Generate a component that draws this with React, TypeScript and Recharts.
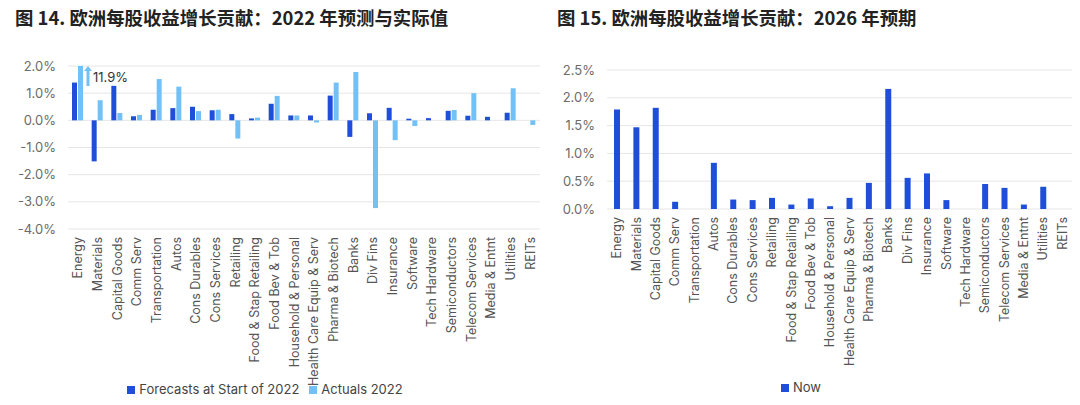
import React from 'react';
import { BarChart, Bar, XAxis, YAxis, CartesianGrid, Legend, LabelList } from 'recharts';

const categories = [
  'Energy', 'Materials', 'Capital Goods', 'Comm Serv', 'Transportation', 'Autos',
  'Cons Durables', 'Cons Services', 'Retailing', 'Food & Stap Retailing', 'Food Bev & Tob',
  'Household & Personal', 'Health Care Equip & Serv', 'Pharma & Biotech', 'Banks', 'Div Fins',
  'Insurance', 'Software', 'Tech Hardware', 'Semiconductors', 'Telecom Services',
  'Media & Entnt', 'Utilities', 'REITs',
];

// EPS growth contribution, %
const forecasts2022 = [
  1.39, -1.51, 1.27, 0.15, 0.39, 0.45, 0.5, 0.37, 0.23, 0.07, 0.61, 0.18,
  0.18, 0.91, -0.61, 0.26, 0.46, 0.06, 0.08, 0.35, 0.17, 0.13, 0.28, 0,
];
const actuals2022 = [
  11.9, 0.74, 0.27, 0.2, 1.52, 1.24, 0.34, 0.39, -0.67, 0.1, 0.9, 0.18,
  -0.08, 1.39, 1.78, -3.23, -0.73, -0.21, 0, 0.38, 1.0, 0, 1.18, -0.17,
];
const now2026 = [
  1.79, 1.47, 1.82, 0.13, 0, 0.83, 0.17, 0.16, 0.2, 0.08, 0.19, 0.05,
  0.2, 0.47, 2.16, 0.56, 0.64, 0.16, 0, 0.45, 0.38, 0.08, 0.4, 0,
];

const leftTicks = [2, 1, 0, -1, -2, -3, -4];
const rightTicks = [0, 0.5, 1, 1.5, 2, 2.5];
const LEFT_MAX = 2;
const legendOrder = ['Forecasts at Start of 2022', 'Actuals 2022'];

const FONT = 'Inter, "Noto Sans", sans-serif';
const DARK = '#1f4fd8';
const LIGHT = '#72c1f6';

const leftData = categories.map((name, i) => ({
  name,
  forecast: forecasts2022[i],
  actual: Math.min(actuals2022[i], LEFT_MAX),
  actualRaw: actuals2022[i],
}));

const rightData = categories.map((name, i) => ({ name, now: now2026[i] }));

const pct = (v: number) => `${v.toFixed(1)}%`;

const tickY = { fill: '#6b6b6b', fontSize: 13, fontFamily: FONT };

function CatTick(props: any) {
  const { x, y, payload } = props;
  return (
    <text
      x={x}
      y={y}
      transform={`rotate(-90, ${x}, ${y})`}
      textAnchor="end"
      dominantBaseline="central"
      fill="#555"
      fontSize={12.5}
      fontFamily={FONT}
    >
      {payload.value}
    </text>
  );
}

// arrow + value for the bar that runs off the top of the axis
function OverflowLabel(props: any) {
  const { x, y, width, index } = props;
  if (actuals2022[index] <= LEFT_MAX) return null;
  const ax = x + width + 5;
  return (
    <g>
      <line x1={ax} y1={y + 20} x2={ax} y2={y + 4} stroke={LIGHT} strokeWidth={3} />
      <path d={`M${ax - 4},${y + 5} L${ax},${y} L${ax + 4},${y + 5} Z`} fill={LIGHT} />
      <text x={ax + 5} y={y + 11} dominantBaseline="central" fontSize={13} fill="#333" fontFamily={FONT}>
        {pct(actuals2022[index])}
      </text>
    </g>
  );
}

const titleStyle: React.CSSProperties = {
  position: 'absolute',
  top: 4,
  fontFamily: '"Noto Sans CJK SC", sans-serif',
  fontWeight: 700,
  fontSize: 18.4,
  color: '#222',
  whiteSpace: 'nowrap',
};

const legendStyle = { fontSize: 13, fontFamily: FONT, color: '#444' };

export default function App() {
  return (
    <div style={{ position: 'fixed', left: 0, top: 0, width: 1080, height: 405, background: '#fff' }}>
      <div style={{ ...titleStyle, left: 15 }}>图 14. 欧洲每股收益增长贡献：2022 年预测与实际值</div>
      <div style={{ ...titleStyle, left: 557 }}>图 15. 欧洲每股收益增长贡献：2026 年预期</div>

      <div style={{ position: 'absolute', left: 0, top: 45 }}>
        <BarChart
          width={545}
          height={360}
          data={leftData}
          margin={{ top: 21, right: 5, left: 0, bottom: 4 }}
          barSize={5}
          barGap={1}
        >
          <CartesianGrid vertical={false} stroke="#e6e6e6" />
          <XAxis
            dataKey="name"
            interval={0}
            axisLine={false}
            tickLine={false}
            height={152}
            tick={<CatTick />}
          />
          <YAxis
            width={68}
            domain={[-4, 2]}
            ticks={leftTicks}
            tickFormatter={pct}
            axisLine={false}
            tickLine={false}
            tick={tickY}
            tickMargin={6}
          />
          <Legend
            verticalAlign="bottom"
            height={20}
            iconType="square"
            iconSize={8}
            wrapperStyle={legendStyle}
            itemSorter={(item: any) => legendOrder.indexOf(item.value)}
            formatter={(v) => <span style={{ color: '#444' }}>{v}</span>}
          />
          <Bar dataKey="forecast" name="Forecasts at Start of 2022" fill={DARK} isAnimationActive={false} />
          <Bar dataKey="actual" name="Actuals 2022" fill={LIGHT} isAnimationActive={false}>
            <LabelList dataKey="actual" content={<OverflowLabel />} />
          </Bar>
        </BarChart>
      </div>

      <div style={{ position: 'absolute', left: 540, top: 45 }}>
        <BarChart
          width={545}
          height={360}
          data={rightData}
          margin={{ top: 25, right: 13, left: 0, bottom: 6 }}
          barSize={6}
        >
          <CartesianGrid vertical={false} stroke="#e6e6e6" />
          <XAxis
            dataKey="name"
            interval={0}
            axisLine={false}
            tickLine={false}
            height={170}
            tick={<CatTick />}
          />
          <YAxis
            width={67}
            domain={[0, 2.5]}
            ticks={rightTicks}
            tickFormatter={pct}
            axisLine={false}
            tickLine={false}
            tick={tickY}
            tickMargin={6}
          />
          <Legend
            verticalAlign="bottom"
            height={20}
            iconType="square"
            iconSize={8}
            wrapperStyle={legendStyle}
            formatter={(v) => <span style={{ color: '#444' }}>{v}</span>}
          />
          <Bar dataKey="now" name="Now" fill={DARK} isAnimationActive={false} />
        </BarChart>
      </div>
    </div>
  );
}
